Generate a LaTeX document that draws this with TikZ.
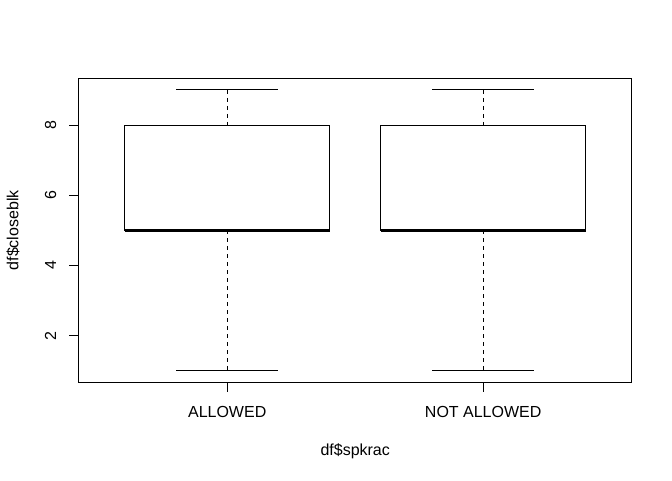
\documentclass[tikz,border=0pt]{standalone}
\usepackage{fontspec}
\setmainfont{Liberation Sans}
\begin{document}
\begin{tikzpicture}[x=0.75pt,y=-0.75pt,
  frame/.style={draw=black,line width=0.75pt},
  tickline/.style={draw=black,line width=0.75pt},
  whisk/.style={draw=black,line width=0.75pt,dash pattern=on 3pt off 3pt},
  capline/.style={draw=black,line width=0.75pt},
  medline/.style={draw=black,line width=2.25pt},
  lbl/.style={font=\fontsize{12}{14}\selectfont,inner sep=0pt,anchor=base},
  ylbl/.style={lbl,rotate=90}]
\useasboundingbox (0,0) rectangle (672,480);
% plot frame
\draw[frame] (78.7,78.7) rectangle (631.7,382);
% y ticks and labels
\foreach \v/\yy in {2/335.6,4/265.4,6/195.2,8/125.0}{
  \coordinate (yt\v) at (78.7,\yy);
  \coordinate (yo\v) at (69.1,\yy);
  \draw[tickline] (yt\v) -- (yo\v);
  \node[ylbl] (yl\v) at (56,\yy) {\v};
}
% x ticks
\coordinate (xt1) at (227.2,382);
\coordinate (xo1) at (227.2,391.6);
\coordinate (xt2) at (483.2,382);
\coordinate (xo2) at (483.2,391.6);
\draw[tickline] (xt1) -- (xo1);
\draw[tickline] (xt2) -- (xo2);
\node[lbl] (xl1) at (227.2,417.4) {ALLOWED};
\node[lbl] (xl2) at (483.2,417.4) {NOT ALLOWED};
% axis titles
\node[lbl] (xtitle) at (355.2,455.8) {df\$spkrac};
\node[ylbl] (ytitle) at (18.5,230.3) {df\$closeblk};
% boxes
\foreach \i/\c in {1/227.2,2/483.2}{
  \coordinate (top\i) at (\c,89.9);
  \coordinate (q3\i) at (\c,125.0);
  \coordinate (q1\i) at (\c,230.3);
  \coordinate (bot\i) at (\c,370.8);
  \draw[whisk] (top\i) -- (q3\i);
  \draw[whisk] (q1\i) -- (bot\i);
  \draw[capline] ([xshift=-38.4pt]top\i) -- ([xshift=38.4pt]top\i);
  \draw[capline] ([xshift=-38.4pt]bot\i) -- ([xshift=38.4pt]bot\i);
  \draw[frame] ([xshift=-76.8pt]q3\i) rectangle ([xshift=76.8pt]q1\i);
  \draw[medline] ([xshift=-76.8pt]q1\i) -- ([xshift=76.8pt]q1\i);
}
\end{tikzpicture}
\end{document}
